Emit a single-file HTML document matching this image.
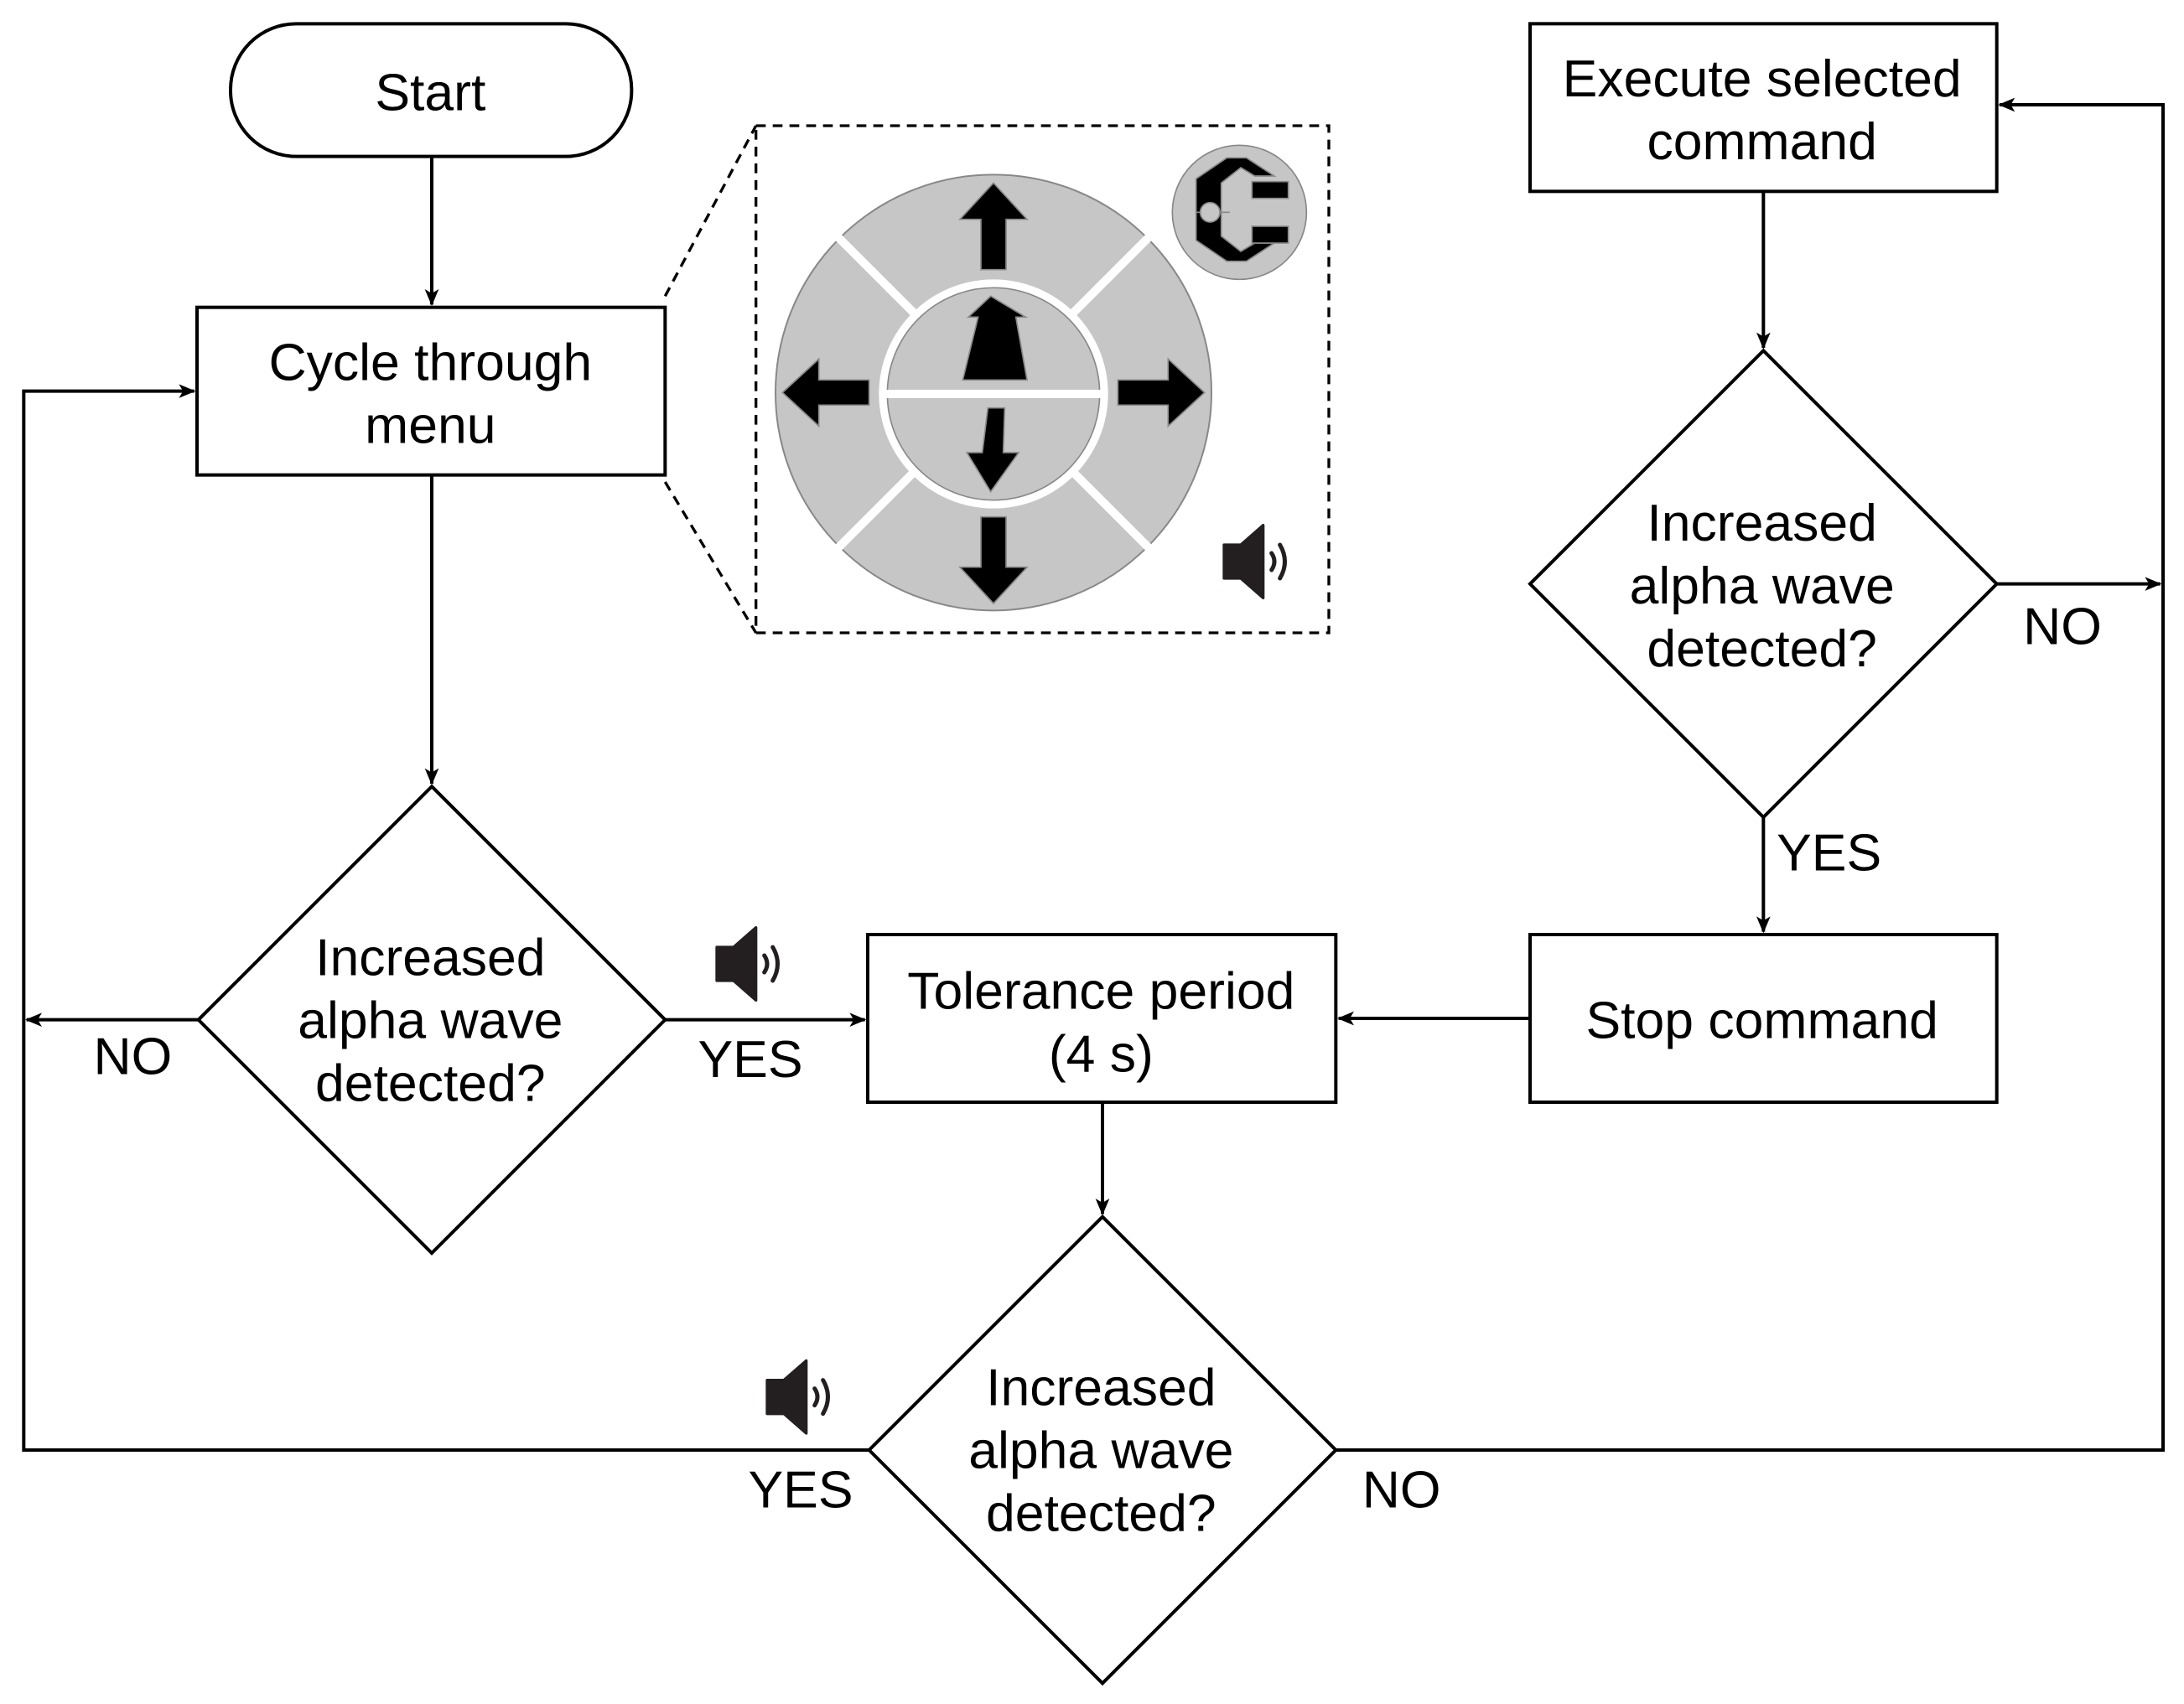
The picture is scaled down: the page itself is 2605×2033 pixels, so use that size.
<!DOCTYPE html>
<html><head><style>html,body{margin:0;padding:0;background:#fff}svg{display:block}</style></head><body>
<svg width="2605" height="2033" viewBox="0 0 1563 1219.8" xmlns="http://www.w3.org/2000/svg">
<defs>
<marker id="a" markerWidth="12" markerHeight="10" refX="11" refY="5" orient="auto" markerUnits="userSpaceOnUse"><path d="M0,0 L12,5 L0,10 L3,5 Z" fill="#000"/></marker>
<g id="spk"><path d="M-24,-12 h12 l16,-14 v52 l-16,-14 h-12 z" fill="#231f20" stroke="#231f20" stroke-width="2" stroke-linejoin="round"/><path d="M10,-6 q4,6 0,12" fill="none" stroke="#231f20" stroke-width="3" stroke-linecap="round"/><path d="M16,-12 q7,12 0,24" fill="none" stroke="#231f20" stroke-width="3" stroke-linecap="round"/></g>
<g id="arr"><path d="M-9,0 v-36 h-15 l24,-26 l24,26 h-15 v36 z" fill="#000" stroke="#888" stroke-width="1"/></g>
</defs>
<g fill="none" stroke="#000" stroke-width="2.4">
<rect x="165" y="17" width="287" height="95" rx="47"/>
<rect x="141" y="220" width="335" height="120"/>
<polygon points="309,563 476,730 309,897 142,730"/>
<rect x="621" y="669" width="335" height="120"/>
<polygon points="789,871 956,1038 789,1205 622,1038"/>
<rect x="1095" y="17" width="334" height="120"/>
<polygon points="1262,251 1429,418 1262,585 1095,418"/>
<rect x="1095" y="669" width="334" height="120"/>
<line x1="309" y1="112" x2="309" y2="218" marker-end="url(#a)"/>
<line x1="309" y1="340" x2="309" y2="561" marker-end="url(#a)"/>
<line x1="142" y1="730" x2="19" y2="730" marker-end="url(#a)"/>
<line x1="476" y1="730" x2="619" y2="730" marker-end="url(#a)"/>
<polyline points="622,1038 17,1038 17,280 139,280" marker-end="url(#a)"/>
<polyline points="956,1038 1548,1038 1548,75 1431,75" marker-end="url(#a)"/>
<line x1="1429" y1="418" x2="1546" y2="418" marker-end="url(#a)"/>
<line x1="1262" y1="137" x2="1262" y2="249" marker-end="url(#a)"/>
<line x1="1262" y1="585" x2="1262" y2="667" marker-end="url(#a)"/>
<line x1="1095" y1="729" x2="958" y2="729" marker-end="url(#a)"/>
<line x1="789" y1="789" x2="789" y2="869" marker-end="url(#a)"/>
</g>
<g fill="none" stroke="#000" stroke-width="2" stroke-dasharray="7,5">
<rect x="541" y="90" width="410" height="363"/>
<line x1="476" y1="212" x2="541" y2="90"/>
<line x1="476" y1="345" x2="541" y2="453"/>
</g>
<!-- menu wheel -->
<circle cx="711" cy="281" r="156" fill="#c6c6c6" stroke="#888" stroke-width="1.2"/>
<g stroke="#fff" stroke-width="6">
<line x1="600" y1="170" x2="822" y2="392"/><line x1="822" y1="170" x2="600" y2="392"/>
</g>
<circle cx="711" cy="282" r="82" fill="#fff"/>
<circle cx="711" cy="282" r="76" fill="#c6c6c6" stroke="#888" stroke-width="1"/>
<line x1="633" y1="282" x2="789" y2="282" stroke="#fff" stroke-width="6"/>
<use href="#arr" transform="translate(711,193)"/>
<use href="#arr" transform="translate(711,370) rotate(180)"/>
<use href="#arr" transform="translate(622,281) rotate(-90)"/>
<use href="#arr" transform="translate(800,281) rotate(90)"/>
<path d="M709,212 l-16,15 h7 l-11,45 h46 l-8,-45 h7 z" fill="#000" stroke="#888" stroke-width="1"/>
<path d="M709,352 l-17,-28 h11 l4,-32 h12 l-1,32 h11 z" fill="#000" stroke="#888" stroke-width="1"/>
<circle cx="887" cy="152" r="48" fill="#c6c6c6" stroke="#888" stroke-width="1"/>
<path d="M856,128 l22,-15 h14 l20,13 h-14 l-10,-6 l-14,11 v38 l14,11 l10,-6 h14 l-20,13 h-14 l-22,-15 z" fill="#000" stroke="#888" stroke-width="1"/>
<rect x="896" y="130" width="26" height="12" fill="#000" stroke="#888" stroke-width="1"/>
<rect x="896" y="162" width="26" height="12" fill="#000" stroke="#888" stroke-width="1"/>
<line x1="856" y1="152" x2="880" y2="152" stroke="#888" stroke-width="1"/>
<circle cx="866" cy="152" r="7" fill="#c6c6c6" stroke="#888" stroke-width="1"/>
<use href="#spk" transform="translate(900,402)"/>
<use href="#spk" transform="translate(537,690)"/>
<use href="#spk" transform="translate(573,1000)"/>
<g font-family="Liberation Sans, Arial, sans-serif" font-size="37.5" text-anchor="middle" fill="#000">
<text x="308" y="79">Start</text>
<text x="308" y="272">Cycle through</text><text x="308" y="317">menu</text>
<text x="308" y="698">Increased</text><text x="308" y="743">alpha wave</text><text x="308" y="788">detected?</text>
<text x="788" y="722">Tolerance period</text><text x="788" y="767">(4 s)</text>
<text x="788" y="1006">Increased</text><text x="788" y="1051">alpha wave</text><text x="788" y="1096">detected?</text>
<text x="1261" y="69">Execute selected</text><text x="1261" y="114">command</text>
<text x="1261" y="387">Increased</text><text x="1261" y="432">alpha wave</text><text x="1261" y="477">detected?</text>
<text x="1261" y="743">Stop command</text>
<text x="95" y="769">NO</text>
<text x="537" y="771">YES</text>
<text x="573" y="1079">YES</text>
<text x="1003" y="1079">NO</text>
<text x="1476" y="461">NO</text>
<text x="1309" y="623">YES</text>
</g>
</svg>
</body></html>
